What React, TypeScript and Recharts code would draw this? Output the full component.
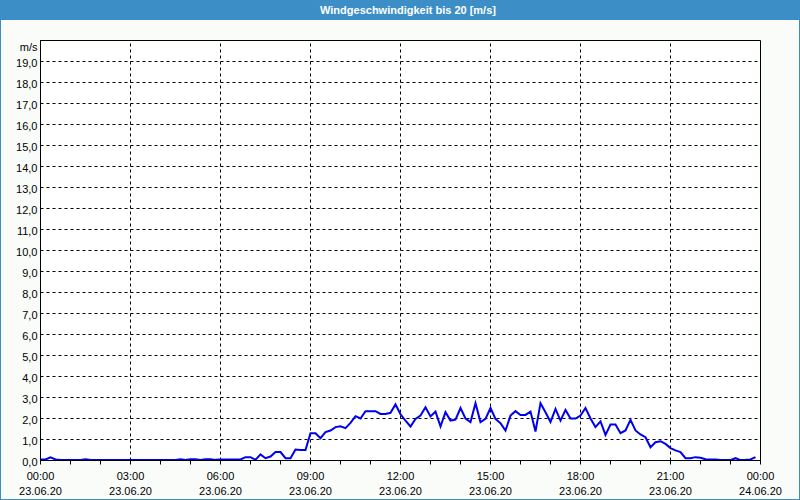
import React from "react";
import {
  LineChart,
  Line,
  XAxis,
  YAxis,
  CartesianGrid,
  ReferenceLine,
  ReferenceArea,
} from "recharts";

// wind speed in m/s, one value every 10 minutes from 00:00 to 23:50
const speed = [
  0.05, 0.05, 0.15, 0.05, 0.02, 0.02, 0.02, 0.02, 0.02, 0.06, 0.02, 0.02,
  0.02, 0.02, 0.02, 0.02, 0.02, 0.02, 0.02, 0.02, 0.02, 0.02, 0.02, 0.02,
  0.02, 0.02, 0.02, 0.02, 0.06, 0.03, 0.06, 0.06, 0.03, 0.06, 0.06, 0.03,
  0.05, 0.05, 0.05, 0.05, 0.05, 0.16, 0.16, 0.03, 0.29, 0.11, 0.19, 0.4,
  0.4, 0.11, 0.11, 0.52, 0.5, 0.5, 1.3, 1.3, 1.06, 1.35, 1.43, 1.59,
  1.63, 1.54, 1.79, 2.11, 2.0, 2.35, 2.35, 2.35, 2.22, 2.22, 2.27, 2.67,
  2.2, 1.9, 1.62, 1.98, 2.14, 2.54, 2.1, 2.33, 1.62, 2.3, 1.9, 1.95,
  2.5, 2.0, 1.83, 2.73, 1.83, 1.98, 2.5, 1.98, 1.78, 1.43, 2.14, 2.35,
  2.17, 2.17, 2.33, 1.38, 2.73, 2.3, 1.83, 2.46, 1.9, 2.41, 2.0, 2.0,
  2.14, 2.5, 2.0, 1.59, 1.86, 1.22, 1.71, 1.71, 1.3, 1.43, 1.94, 1.43,
  1.24, 1.11, 0.63, 0.87, 0.92, 0.79, 0.59, 0.48, 0.4, 0.11, 0.11, 0.16,
  0.13, 0.06, 0.05, 0.05, 0.02, 0.02, 0.02, 0.11, 0.02, 0.03, 0.05, 0.16,
];

// minutes since 23.06.20 00:00
const hourTicks = [
  0, 60, 120, 180, 240, 300, 360, 420, 480, 540, 600, 660, 720, 780, 840,
  900, 960, 1020, 1080, 1140, 1200, 1260, 1320, 1380, 1440,
];
const labelTicks = [0, 180, 360, 540, 720, 900, 1080, 1260, 1440];
const timeLabels = ["00:00", "03:00", "06:00", "09:00", "12:00", "15:00", "18:00", "21:00", "00:00"];
const dateLabels = ["23.06.20", "23.06.20", "23.06.20", "23.06.20", "23.06.20", "23.06.20", "23.06.20", "23.06.20", "24.06.20"];
const gridMinutes = [180, 360, 540, 720, 900, 1080, 1260];

const yTicks = [0, 1, 2, 3, 4, 5, 6, 7, 8, 9, 10, 11, 12, 13, 14, 15, 16, 17, 18, 19, 20];

const data = speed.map((v, i) => ({ t: i * 10, v }));

const FONT = "'Liberation Sans', Arial, sans-serif";
const BLUE = "#3c8fc6";

const XTick = (props: any) => {
  const { x, y, payload } = props;
  const idx = labelTicks.indexOf(payload.value);
  if (idx < 0) return <g />;
  return (
    <g>
      <text x={x} y={y} dy={13} textAnchor="middle" fill="#000" fontSize={11} fontFamily={FONT}>
        {timeLabels[idx]}
      </text>
      <text x={x} y={y} dy={28} textAnchor="middle" fill="#000" fontSize={11} fontFamily={FONT}>
        {dateLabels[idx]}
      </text>
    </g>
  );
};

const YTick = (props: any) => {
  const { x, y, payload } = props;
  const label = payload.value === 20 ? "m/s" : payload.value.toFixed(1).replace(".", ",");
  return (
    <text
      x={x}
      y={y}
      dy={payload.value === 20 ? 10 : 5}
      textAnchor="end"
      fill="#000"
      fontSize={11}
      fontFamily={FONT}
    >
      {label}
    </text>
  );
};

const App = () => {
  return (
    <div style={{ position: "relative", width: 800, height: 500, background: "#f9fcf9", overflow: "hidden" }}>
      <style>{"body{margin:0}"}</style>
      <div style={{ position: "absolute", left: 0, top: 0 }}>
        <LineChart
          width={800}
          height={500}
          data={data}
          margin={{ top: 40.5, right: 39.5, left: 0.5, bottom: 0.5 }}
        >
          <CartesianGrid
            vertical={false}
            stroke="#000"
            strokeDasharray="3 3"
            fill="#fff"
            fillOpacity={1}
          />
          {gridMinutes.map((m) => (
            <ReferenceLine key={m} x={m} stroke="#000" strokeDasharray="3 3" />
          ))}
          <ReferenceArea x1={0} x2={1440} y1={0} y2={20} fill="none" stroke="#000" strokeWidth={1} />
          <XAxis
            dataKey="t"
            type="number"
            domain={[0, 1440]}
            ticks={hourTicks}
            interval={0}
            height={39}
            tickSize={4}
            tickMargin={2}
            axisLine={{ stroke: "#000" }}
            tickLine={{ stroke: "#000" }}
            tick={<XTick />}
          />
          <YAxis
            type="number"
            domain={[0, 20]}
            ticks={yTicks}
            interval={0}
            width={40}
            tickSize={0}
            tickMargin={3}
            tickLine={false}
            axisLine={{ stroke: "#000" }}
            tick={<YTick />}
          />
          <Line
            type="linear"
            dataKey="v"
            stroke="#0000ee"
            strokeWidth={2}
            dot={false}
            isAnimationActive={false}
          />
        </LineChart>
      </div>
      <div
        style={{
          position: "absolute",
          left: 0,
          top: 0,
          width: 800,
          height: 20,
          background: BLUE,
          color: "#fff",
          fontFamily: FONT,
          fontWeight: "bold",
          fontSize: 11,
          lineHeight: "20px",
          textAlign: "center",
          paddingLeft: 16,
          boxSizing: "border-box",
        }}
      >
        Windgeschwindigkeit bis 20 [m/s]
      </div>
      <div
        style={{
          position: "absolute",
          inset: 0,
          border: `1px solid ${BLUE}`,
          pointerEvents: "none",
        }}
      />
    </div>
  );
};

export default App;
